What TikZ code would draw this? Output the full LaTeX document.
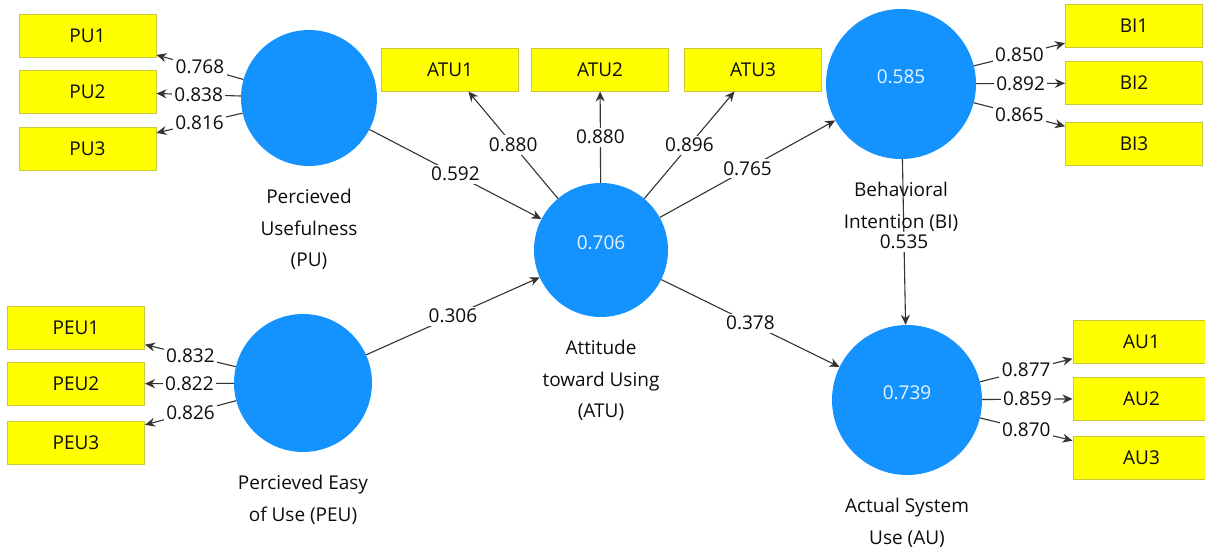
\documentclass[tikz,border=0pt]{standalone}
\usepackage{fontspec}
\setmainfont{Open Sans}
\usetikzlibrary{arrows.meta, positioning}

\definecolor{latentblue}{HTML}{1493FF}
\definecolor{itemyellow}{HTML}{FFFF00}
\definecolor{itemedge}{HTML}{C8C83C}

\begin{document}
\begin{tikzpicture}[
  x=1pt, y=-1pt,
  font=\fontsize{19}{31.5}\selectfont,
  latent/.style={circle, fill=latentblue, draw=none, inner sep=0pt},
  item/.style={rectangle, fill=itemyellow, draw=itemedge, line width=1pt, minimum width=137pt, minimum height=43pt, inner sep=0pt, text=black!95},
  rsq/.style={text=white!90!latentblue, yshift=7pt},
  cname/.style={align=center, inner sep=0pt, text=black!95},
  coef/.style={fill=white, inner sep=2.5pt, text=black!95},
  arrow/.style={-{Stealth[length=10pt, width=9pt]}, draw=black!80, line width=1.1pt}
]
  \useasboundingbox (0,0) rectangle (1205,549);

  % Latent variables
  \node[latent, minimum size=136pt] (PU) at (309,98) {};
  \node[latent, minimum size=138pt] (PEU) at (303,383) {};
  \node[latent, minimum size=134pt, label={[rsq]center:0.706}] (ATU) at (601,250) {};
  \node[latent, minimum size=150pt, label={[rsq]center:0.585}] (BI) at (901,84) {};
  \node[latent, minimum size=150pt, label={[rsq]center:0.739}] (AU) at (907,400) {};

  % Indicators
  \node[item] (PU2) at (87.5,91.5) {PU2};
  \node[item, above=12pt of PU2] (PU1) {PU1};
  \node[item, below=13pt of PU2] (PU3) {PU3};

  \node[item] (PEU2) at (76,384) {PEU2};
  \node[item, above=12pt of PEU2] (PEU1) {PEU1};
  \node[item, below=15pt of PEU2] (PEU3) {PEU3};

  \node[item] (ATU2) at (600,69.5) {ATU2};
  \node[item, left=12pt of ATU2] (ATU1) {ATU1};
  \node[item, right=15pt of ATU2] (ATU3) {ATU3};

  \node[item] (BI2) at (1134,83) {BI2};
  \node[item, above=13pt of BI2] (BI1) {BI1};
  \node[item, below=17pt of BI2] (BI3) {BI3};

  \node[item] (AU2) at (1141.5,398.5) {AU2};
  \node[item, above=13pt of AU2] (AU1) {AU1};
  \node[item, below=15pt of AU2] (AU3) {AU3};

  % Outer loadings
  \foreach \i/\v in {1/0.768, 2/0.838, 3/0.816}
    \draw[arrow] (PU) -- node[coef] {\v} (PU\i);
  \foreach \i/\v in {1/0.832, 2/0.822, 3/0.826}
    \draw[arrow] (PEU) -- node[coef] {\v} (PEU\i);
  \foreach \i/\v in {1/0.880, 2/0.880, 3/0.896}
    \draw[arrow] (ATU) -- node[coef] {\v} (ATU\i);
  \foreach \i/\v in {1/0.850, 2/0.892, 3/0.865}
    \draw[arrow] (BI) -- node[coef] {\v} (BI\i);
  \foreach \i/\v in {1/0.877, 2/0.859, 3/0.870}
    \draw[arrow] (AU) -- node[coef] {\v} (AU\i);

  % Path coefficients
  \draw[arrow] (PU) -- node[coef] {0.592} (ATU);
  \draw[arrow] (PEU) -- node[coef] {0.306} (ATU);
  \draw[arrow] (ATU) -- node[coef] {0.765} (BI);
  \draw[arrow] (ATU) -- node[coef] {0.378} (AU);
  \draw[arrow] (BI) -- node[coef] {0.535} (AU);

  % Construct names
  \node[cname, below=23pt of PU] (PUname) {Percieved\\Usefulness\\(PU)};
  \node[cname, below=23pt of PEU] (PEUname) {Percieved Easy\\of Use (PEU)};
  \node[cname, below=23pt of ATU] (ATUname) {Attitude\\toward Using\\(ATU)};
  \node[cname, below=23pt of BI] (BIname) {Behavioral\\Intention (BI)};
  \node[cname, below=23pt of AU] (AUname) {Actual System\\Use (AU)};
\end{tikzpicture}
\end{document}
